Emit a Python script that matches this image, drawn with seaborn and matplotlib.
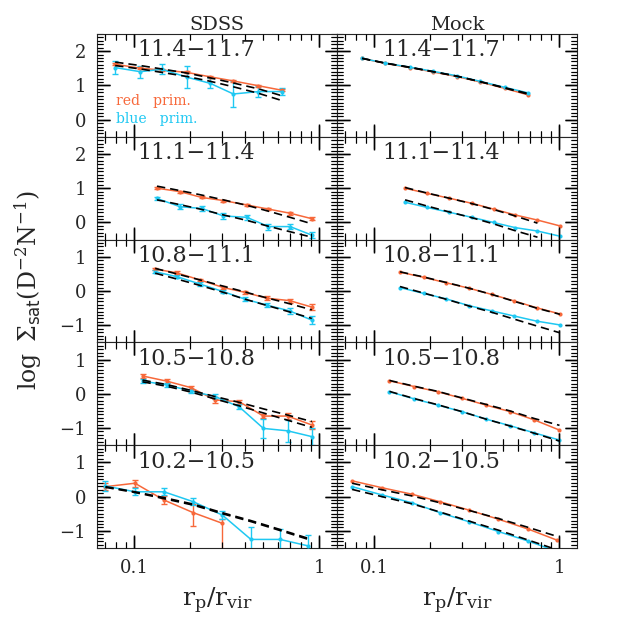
import matplotlib
matplotlib.use('Agg')
import matplotlib.pyplot as plt
import matplotlib.ticker as mticker
import matplotlib.transforms as mtrans
import numpy as np
import pandas as pd
import seaborn as sns

sns.set_style('ticks')
plt.rcParams['font.family'] = ['DejaVu Serif']
plt.rcParams['mathtext.fontset'] = 'dejavuserif'

RED = '#f7683a'
BLUE = '#1fc8f2'

# Mass bins, one per row (top to bottom)
bins = ['11.4\u221211.7', '11.1\u221211.4', '10.8\u221211.1', '10.5\u221210.8', '10.2\u221210.5']

# SDSS column
sdss_x = [
    [0.079, 0.108, 0.141, 0.193, 0.258, 0.344, 0.470, 0.628],
    [0.133, 0.177, 0.232, 0.304, 0.407, 0.532, 0.697, 0.914],
    [0.130, 0.170, 0.228, 0.304, 0.398, 0.521, 0.692, 0.914],
    [0.111, 0.150, 0.203, 0.274, 0.370, 0.500, 0.675, 0.914],
    [0.070, 0.101, 0.145, 0.209, 0.300, 0.428, 0.615, 0.875],
]
sdss_red = [
    [1.62, 1.50, 1.45, 1.38, 1.25, 1.13, 0.99, 0.86],
    [1.00, 0.90, 0.73, 0.64, 0.51, 0.39, 0.27, 0.11],
    [0.64, 0.53, 0.32, 0.10, -0.04, -0.21, -0.28, -0.47],
    [0.52, 0.37, 0.18, -0.18, -0.23, -0.65, -0.65, -0.91],
    [0.29, 0.39, -0.10, -0.47, -0.78],
]
sdss_red_elo = [
    [0.03, 0.03, 0.03, 0.03, 0.03, 0.03, 0.03, 0.03],
    [0.03, 0.03, 0.03, 0.03, 0.03, 0.04, 0.04, 0.04],
    [0.04, 0.04, 0.04, 0.04, 0.05, 0.05, 0.06, 0.08],
    [0.05, 0.05, 0.06, 0.08, 0.06, 0.07, 0.08, 0.12],
    [0.10, 0.10, 0.13, 0.40, 1.00],
]
sdss_red_ehi = [
    [0.03, 0.03, 0.03, 0.03, 0.03, 0.03, 0.03, 0.03],
    [0.03, 0.03, 0.03, 0.03, 0.03, 0.04, 0.04, 0.04],
    [0.04, 0.04, 0.04, 0.04, 0.05, 0.05, 0.06, 0.08],
    [0.05, 0.05, 0.06, 0.08, 0.06, 0.07, 0.08, 0.12],
    [0.10, 0.10, 0.13, 0.25, 0.12],
]
sdss_blue = [
    [1.52, 1.40, 1.47, 1.24, 1.06, 0.75, 0.82, 0.82],
    [0.70, 0.46, 0.41, 0.19, 0.15, -0.12, -0.12, -0.37],
    [0.56, 0.42, 0.20, -0.02, -0.24, -0.41, -0.58, -0.85],
    [0.37, 0.26, 0.08, -0.08, -0.38, -1.01, -1.08, -1.25],
    [0.31, 0.14, 0.14, -0.15, -0.54, -1.25, -1.25, -1.44],
]
sdss_blue_err = [
    [0.19, 0.18, 0.15, 0.32, 0.15, 0.39, 0.17, 0.09],
    [0.05, 0.08, 0.07, 0.08, 0.07, 0.09, 0.08, 0.09],
    [0.04, 0.04, 0.05, 0.05, 0.06, 0.07, 0.08, 0.12],
    [0.05, 0.05, 0.06, 0.06, 0.07, 0.28, 0.32, 0.25],
    [0.15, 0.10, 0.10, 0.10, 0.12, 0.37, 0.30, 0.32],
]
sdss_model_red = [
    [1.68, 1.58, 1.48, 1.36, 1.22, 1.07, 0.90, 0.70],
    [1.06, 0.93, 0.80, 0.66, 0.50, 0.33, 0.15, -0.04],
    [0.66, 0.50, 0.32, 0.14, -0.03, -0.20, -0.37, -0.55],
    [0.40, 0.27, 0.10, -0.08, -0.25, -0.44, -0.62, -0.81],
    [0.29, 0.14, -0.03, -0.22, -0.47, -0.70, -0.96, -1.22],
]
sdss_model_blue = [
    [1.58, 1.48, 1.38, 1.26, 1.12, 0.96, 0.77, 0.56],
    [0.66, 0.52, 0.38, 0.22, 0.06, -0.11, -0.27, -0.43],
    [0.52, 0.35, 0.16, -0.04, -0.24, -0.42, -0.61, -0.80],
    [0.35, 0.22, 0.05, -0.15, -0.35, -0.56, -0.77, -0.98],
    [0.27, 0.12, -0.06, -0.25, -0.50, -0.73, -0.99, -1.25],
]

# Mock column
mock_x = [
    [0.086, 0.115, 0.157, 0.209, 0.280, 0.374, 0.511, 0.683],
    [0.147, 0.193, 0.254, 0.337, 0.442, 0.578, 0.764, 1.010],
    [0.138, 0.185, 0.245, 0.327, 0.432, 0.571, 0.757, 1.010],
    [0.121, 0.165, 0.221, 0.298, 0.403, 0.543, 0.733, 1.005],
    [0.076, 0.110, 0.160, 0.227, 0.324, 0.470, 0.682, 0.973],
]
mock_red = [
    [1.79, 1.64, 1.52, 1.39, 1.26, 1.10, 0.91, 0.72],
    [1.00, 0.85, 0.71, 0.56, 0.39, 0.22, 0.07, -0.10],
    [0.55, 0.40, 0.24, 0.08, -0.10, -0.29, -0.49, -0.67],
    [0.38, 0.21, 0.06, -0.13, -0.33, -0.52, -0.76, -1.06],
    [0.46, 0.26, 0.07, -0.15, -0.39, -0.66, -0.95, -1.27],
]
mock_blue = [
    [1.79, 1.65, 1.53, 1.41, 1.28, 1.12, 0.94, 0.78],
    [0.59, 0.44, 0.30, 0.15, 0.00, -0.15, -0.25, -0.40],
    [0.10, -0.07, -0.23, -0.43, -0.58, -0.73, -0.88, -0.99],
    [0.06, -0.15, -0.33, -0.52, -0.74, -0.93, -1.14, -1.35],
    [0.29, 0.05, -0.18, -0.47, -0.73, -1.02, -1.30, -1.60],
]
mock_model_red = [
    [1.79, 1.65, 1.52, 1.40, 1.27, 1.11, 0.92, 0.74],
    [1.02, 0.86, 0.71, 0.55, 0.38, 0.19, -0.02],
    [0.56, 0.41, 0.25, 0.08, -0.10, -0.30, -0.50, -0.68],
    [0.39, 0.22, 0.07, -0.12, -0.31, -0.50, -0.72, -0.92],
    [0.39, 0.20, 0.02, -0.18, -0.40, -0.64, -0.90, -1.16],
]
mock_model_blue = [
    [1.79, 1.65, 1.53, 1.40, 1.27, 1.11, 0.93, 0.76],
    [0.66, 0.48, 0.31, 0.14, -0.04, -0.24, -0.43],
    [0.13, -0.06, -0.24, -0.44, -0.62, -0.82, -1.02, -1.22],
    [0.07, -0.14, -0.32, -0.52, -0.74, -0.94, -1.15, -1.38],
    [0.21, 0.00, -0.21, -0.45, -0.71, -0.98, -1.27, -1.55],
]

ylims = [(-0.5, 2.5), (-0.5, 2.5), (-1.5, 1.5), (-1.5, 1.5), (-1.5, 1.5)]

MAJOR_LEN = 9    # points
MINOR_LEN = 4.5  # points


def draw_line(ax, x, y, color):
    d = pd.DataFrame({'x': x[:len(y)], 'y': y})
    sns.lineplot(data=d, x='x', y='y', ax=ax, color=color, lw=1.1,
                 marker='o', markersize=3, mew=0,
                 estimator=None, sort=False, zorder=3)


def draw_model(ax, x, y):
    d = pd.DataFrame({'x': x[:len(y)], 'y': y})
    sns.lineplot(data=d, x='x', y='y', ax=ax, color='black', lw=1.2,
                 linestyle=(0, (5, 3)), estimator=None, sort=False, zorder=4)


def draw_inward_ticks(ax):
    # tick marks drawn as short segments at the axis' own tick locations
    fig = ax.figure
    pos = ax.get_position()
    w_pt = pos.width * fig.get_figwidth() * 72
    h_pt = pos.height * fig.get_figheight() * 72
    tx = mtrans.blended_transform_factory(ax.transData, ax.transAxes)
    ty = mtrans.blended_transform_factory(ax.transAxes, ax.transData)
    x0, x1 = ax.get_xlim()
    y0, y1 = ax.get_ylim()
    for locs, length, lw in [(ax.xaxis.get_majorticklocs(), MAJOR_LEN, 1.0),
                             (ax.xaxis.get_minorticklocs(), MINOR_LEN, 0.8)]:
        locs = [v for v in locs if x0 < v < x1]
        f = length / h_pt
        ax.vlines(locs, 0, f, transform=tx, colors='black', lw=lw, clip_on=False, zorder=6)
        ax.vlines(locs, 1 - f, 1, transform=tx, colors='black', lw=lw, clip_on=False, zorder=6)
    for locs, length, lw in [(ax.yaxis.get_majorticklocs(), MAJOR_LEN, 1.0),
                             (ax.yaxis.get_minorticklocs(), MINOR_LEN, 0.8)]:
        locs = [v for v in locs if y0 < v < y1]
        f = length / w_pt
        ax.hlines(locs, 0, f, transform=ty, colors='black', lw=lw, clip_on=False, zorder=6)
        ax.hlines(locs, 1 - f, 1, transform=ty, colors='black', lw=lw, clip_on=False, zorder=6)


fig, axes = plt.subplots(5, 2, figsize=(6.23, 6.23), dpi=100, sharex=True, sharey='row')
fig.subplots_adjust(left=0.1557, right=0.9262, top=0.9454, bottom=0.1204, hspace=0, wspace=0)

for i in range(5):
    # SDSS panel
    ax = axes[i, 0]
    x = sdss_x[i]
    n = len(sdss_red[i])
    ax.errorbar(x[:n], sdss_red[i], yerr=[sdss_red_elo[i], sdss_red_ehi[i]], fmt='none',
                ecolor=RED, elinewidth=1, capsize=2.5, capthick=1, zorder=3)
    ax.errorbar(x, sdss_blue[i], yerr=sdss_blue_err[i], fmt='none',
                ecolor=BLUE, elinewidth=1, capsize=2.5, capthick=1, zorder=3)
    draw_line(ax, x, sdss_red[i], RED)
    draw_line(ax, x, sdss_blue[i], BLUE)
    draw_model(ax, x, sdss_model_red[i])
    draw_model(ax, x, sdss_model_blue[i])

    # Mock panel
    ax = axes[i, 1]
    x = mock_x[i]
    draw_line(ax, x, mock_red[i], RED)
    draw_line(ax, x, mock_blue[i], BLUE)
    draw_model(ax, x, mock_model_red[i])
    draw_model(ax, x, mock_model_blue[i])

    axes[i, 0].text(0.167, 0.84, bins[i], transform=axes[i, 0].transAxes,
                    fontsize=16, va='center', ha='left')
    axes[i, 1].text(0.19, 0.84, bins[i], transform=axes[i, 1].transAxes,
                    fontsize=16, va='center', ha='left')

# legend text in the top-left panel
axes[0, 0].text(0.079, 0.35, 'red   prim.', color=RED, fontsize=10,
                transform=axes[0, 0].transAxes, va='center')
axes[0, 0].text(0.079, 0.175, 'blue   prim.', color=BLUE, fontsize=10,
                transform=axes[0, 0].transAxes, va='center')

axes[0, 0].set_title('SDSS', fontsize=14, pad=3)
axes[0, 1].set_title('Mock', fontsize=14, pad=3)

for ax in axes.flat:
    ax.set_xlabel('')
    ax.set_ylabel('')
for j in range(2):
    axes[4, j].set_xlabel(r'$\mathrm{r_p/r_{vir}}$', fontsize=18, labelpad=6)

fig.text(0.045, 0.535, r'$\log\ \Sigma_{\mathsf{sat}}(\mathrm{D^{-2}N^{-1}})$',
         rotation=90, va='center', ha='center', fontsize=17)

# axes scales and ticks
for i, ax in enumerate(axes.flat):
    row = i // 2
    ax.set_xscale('log')
    ax.set_xlim(0.063, 1.25)
    ax.set_ylim(*ylims[row])
    ax.xaxis.set_major_locator(mticker.FixedLocator([0.1, 1]))
    ax.xaxis.set_major_formatter(mticker.FixedFormatter(['0.1', '1']))
    ax.xaxis.set_minor_locator(mticker.LogLocator(base=10, subs=np.arange(2, 10), numticks=20))
    ax.xaxis.set_minor_formatter(mticker.NullFormatter())
    ax.yaxis.set_major_locator(mticker.MultipleLocator(1))
    ax.yaxis.set_minor_locator(mticker.MultipleLocator(0.1))
    ax.tick_params(which='major', direction='in', top=True, right=True, length=MAJOR_LEN,
                   width=1, color='black', labelsize=13, pad=8)
    ax.tick_params(which='minor', direction='in', top=True, right=True, length=MINOR_LEN,
                   width=0.8, color='black')

for ax in axes.flat:
    draw_inward_ticks(ax)

fig.savefig('out.png', dpi=100)
